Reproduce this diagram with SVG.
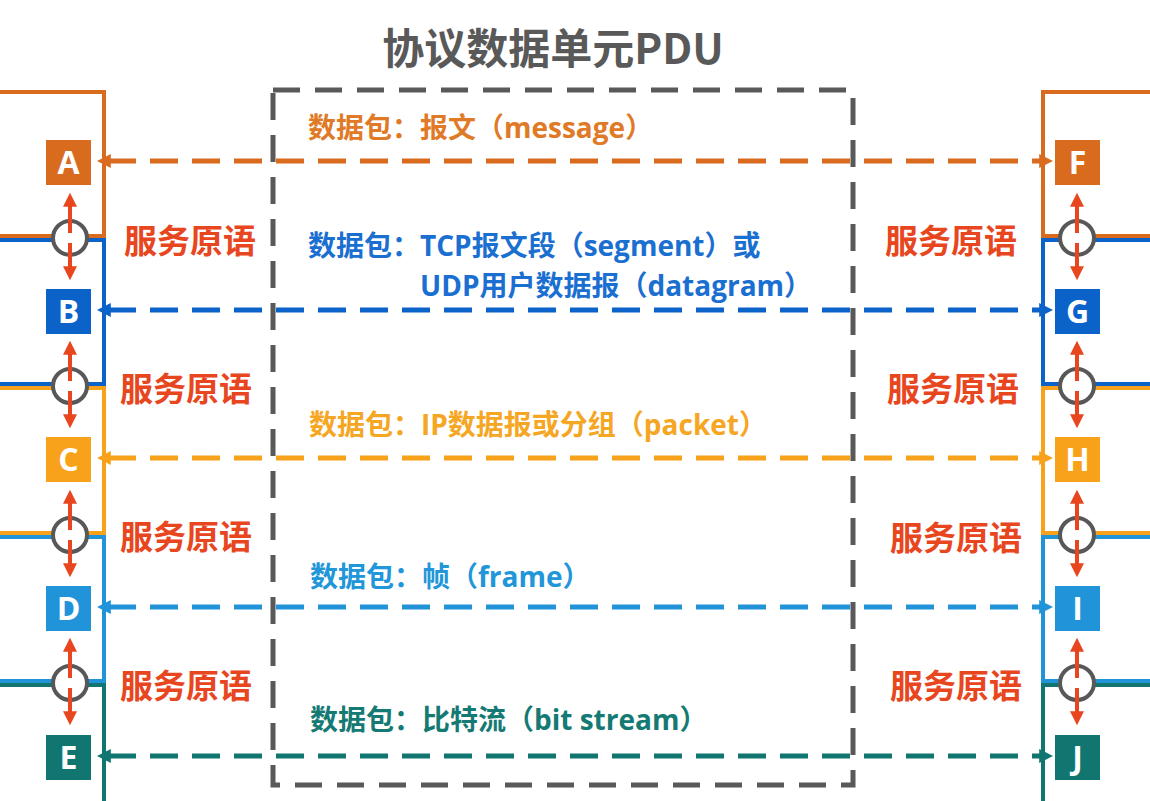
<svg xmlns="http://www.w3.org/2000/svg" width="1150" height="801" viewBox="0 0 1150 801">
<style>
.br{fill:none;stroke-width:4}
.cir{fill:#fff;stroke:#585858;stroke-width:4}
.red{stroke:#e8461e;stroke-width:4;fill:none}
.da{fill:none;stroke-width:5;stroke-dasharray:28 14}
.box text{font-family:"Open Sans","Noto Sans CJK SC",sans-serif;font-weight:bold;font-size:32px;fill:#fff;text-anchor:middle}
.lbl{font-family:"Open Sans","Noto Sans CJK SC",sans-serif;font-weight:bold;font-size:28px}
.sv{font-family:"Noto Sans CJK SC",sans-serif;font-weight:bold;font-size:33px;fill:#e8461e}
</style>
<defs>
<marker id="mr" viewBox="0 0 10 10" refX="2" refY="5" markerWidth="14" markerHeight="14" markerUnits="userSpaceOnUse" orient="auto-start-reverse"><path d="M0,0L10,5L0,10z" fill="#e8461e"/></marker>
<marker id="m1" viewBox="0 0 10 10" refX="2" refY="5" markerWidth="14" markerHeight="14" markerUnits="userSpaceOnUse" orient="auto-start-reverse"><path d="M0,0L10,5L0,10z" fill="#d96b1e"/></marker>
<marker id="m2" viewBox="0 0 10 10" refX="2" refY="5" markerWidth="14" markerHeight="14" markerUnits="userSpaceOnUse" orient="auto-start-reverse"><path d="M0,0L10,5L0,10z" fill="#0b62c8"/></marker>
<marker id="m3" viewBox="0 0 10 10" refX="2" refY="5" markerWidth="14" markerHeight="14" markerUnits="userSpaceOnUse" orient="auto-start-reverse"><path d="M0,0L10,5L0,10z" fill="#f8a21c"/></marker>
<marker id="m4" viewBox="0 0 10 10" refX="2" refY="5" markerWidth="14" markerHeight="14" markerUnits="userSpaceOnUse" orient="auto-start-reverse"><path d="M0,0L10,5L0,10z" fill="#2193d8"/></marker>
<marker id="m5" viewBox="0 0 10 10" refX="2" refY="5" markerWidth="14" markerHeight="14" markerUnits="userSpaceOnUse" orient="auto-start-reverse"><path d="M0,0L10,5L0,10z" fill="#117670"/></marker>
</defs>
<rect width="1150" height="801" fill="#fff"/>
<text x="553" y="64" text-anchor="middle" font-family="'Noto Sans CJK SC',sans-serif" font-weight="bold" font-size="42" fill="#595959">协议数据单元PDU</text>

<g id="brackets">
<path class="br" stroke="#d96b1e" d="M0,92H104V236H0"/>
<path class="br" stroke="#0b62c8" d="M0,240H104V384H0"/>
<path class="br" stroke="#f8a21c" d="M0,388H104V533H0"/>
<path class="br" stroke="#2193d8" d="M0,537H104V681H0"/>
<path class="br" stroke="#117670" d="M0,685H104V801"/>
<path class="br" stroke="#d96b1e" d="M1150,92H1043V236H1150"/>
<path class="br" stroke="#0b62c8" d="M1150,240H1043V384H1150"/>
<path class="br" stroke="#f8a21c" d="M1150,388H1043V533H1150"/>
<path class="br" stroke="#2193d8" d="M1150,537H1043V681H1150"/>
<path class="br" stroke="#117670" d="M1150,685H1043V801"/>
</g>

<g id="sap">
<circle class="cir" cx="70" cy="238" r="17"/>
<circle class="cir" cx="70" cy="386" r="17"/>
<circle class="cir" cx="70" cy="535" r="17"/>
<circle class="cir" cx="70" cy="683" r="17"/>
<circle class="cir" cx="1077" cy="238" r="17"/>
<circle class="cir" cx="1077" cy="386" r="17"/>
<circle class="cir" cx="1077" cy="535" r="17"/>
<circle class="cir" cx="1077" cy="683" r="17"/>
</g>

<g id="connectors">
<g class="red">
<path d="M70,204V233" marker-start="url(#mr)"/><path d="M70,243V269" marker-end="url(#mr)"/>
<path d="M70,352V381" marker-start="url(#mr)"/><path d="M70,391V417" marker-end="url(#mr)"/>
<path d="M70,501V530" marker-start="url(#mr)"/><path d="M70,540V566" marker-end="url(#mr)"/>
<path d="M70,649V678" marker-start="url(#mr)"/><path d="M70,688V714" marker-end="url(#mr)"/>
<path d="M1077,204V233" marker-start="url(#mr)"/><path d="M1077,243V269" marker-end="url(#mr)"/>
<path d="M1077,352V381" marker-start="url(#mr)"/><path d="M1077,391V417" marker-end="url(#mr)"/>
<path d="M1077,501V530" marker-start="url(#mr)"/><path d="M1077,540V566" marker-end="url(#mr)"/>
<path d="M1077,649V678" marker-start="url(#mr)"/><path d="M1077,688V714" marker-end="url(#mr)"/>
</g>
<path class="da" stroke="#d96b1e" d="M108,161H1042" marker-start="url(#m1)" marker-end="url(#m1)"/>
<path class="da" stroke="#0b62c8" d="M108,310H1042" marker-start="url(#m2)" marker-end="url(#m2)"/>
<path class="da" stroke="#f8a21c" d="M108,458H1042" marker-start="url(#m3)" marker-end="url(#m3)"/>
<path class="da" stroke="#2193d8" d="M108,607H1042" marker-start="url(#m4)" marker-end="url(#m4)"/>
<path class="da" stroke="#117670" d="M108,756H1042" marker-start="url(#m5)" marker-end="url(#m5)"/>
</g>

<rect id="pdu" x="273" y="90" width="580" height="695" fill="none" stroke="#595959" stroke-width="5" stroke-dasharray="27 15"/>

<g id="A" class="box"><rect x="46" y="140" width="45" height="45" fill="#d96b1e"/><text x="68.5" y="174">A</text></g>
<g id="B" class="box"><rect x="46" y="289" width="45" height="45" fill="#0b62c8"/><text x="68.5" y="323">B</text></g>
<g id="C" class="box"><rect x="46" y="437" width="45" height="45" fill="#f8a21c"/><text x="68.5" y="471">C</text></g>
<g id="D" class="box"><rect x="46" y="586" width="45" height="45" fill="#2193d8"/><text x="68.5" y="620">D</text></g>
<g id="E" class="box"><rect x="46" y="735" width="45" height="45" fill="#117670"/><text x="68.5" y="769">E</text></g>
<g id="F" class="box"><rect x="1055" y="140" width="45" height="45" fill="#d96b1e"/><text x="1077.5" y="174">F</text></g>
<g id="G" class="box"><rect x="1055" y="289" width="45" height="45" fill="#0b62c8"/><text x="1077.5" y="323">G</text></g>
<g id="H" class="box"><rect x="1055" y="437" width="45" height="45" fill="#f8a21c"/><text x="1077.5" y="471">H</text></g>
<g id="I" class="box"><rect x="1055" y="586" width="45" height="45" fill="#2193d8"/><text x="1077.5" y="620">I</text></g>
<g id="J" class="box"><rect x="1055" y="735" width="45" height="45" fill="#117670"/><text x="1077.5" y="769">J</text></g>

<g id="labels">
<text class="lbl" x="308" y="138" fill="#e07a26">数据包：报文（message）</text>
<text class="lbl" x="308" y="256" fill="#1a6fd1">数据包：TCP报文段（segment）或</text>
<text class="lbl" x="420" y="296" fill="#1a6fd1">UDP用户数据报（datagram）</text>
<text class="lbl" x="309" y="435" fill="#f5a623">数据包：IP数据报或分组（packet）</text>
<text class="lbl" x="310" y="587" fill="#2196d8">数据包：帧（frame）</text>
<text class="lbl" x="310" y="730" fill="#157a73">数据包：比特流（bit stream）</text>
</g>

<g id="primitives">
<text class="sv" x="124" y="253">服务原语</text>
<text class="sv" x="120" y="401">服务原语</text>
<text class="sv" x="120" y="549">服务原语</text>
<text class="sv" x="120" y="698">服务原语</text>
<text class="sv" x="885" y="253">服务原语</text>
<text class="sv" x="887" y="401">服务原语</text>
<text class="sv" x="890" y="550">服务原语</text>
<text class="sv" x="890" y="698">服务原语</text>
</g>
</svg>
